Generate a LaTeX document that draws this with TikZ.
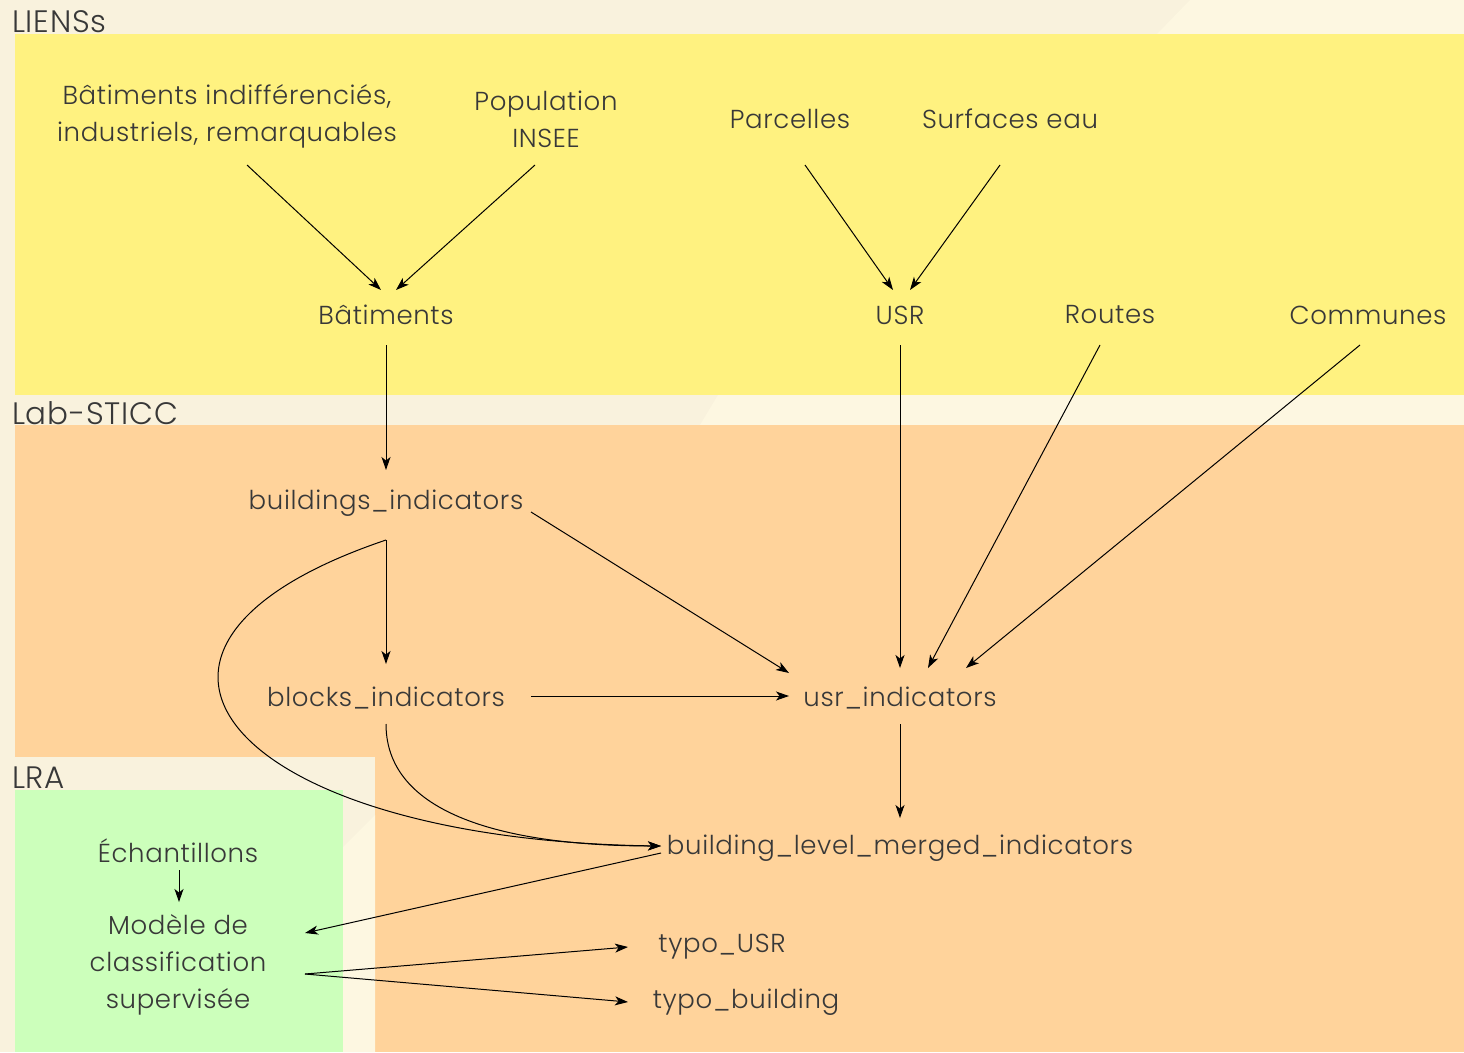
\documentclass[tikz,border=0pt]{standalone}
\usepackage{fontspec}
\setmainfont{Poppins}[UprightFont={* Light},LetterSpace=2.5]
\usetikzlibrary{arrows.meta,calc}
\definecolor{creamD}{RGB}{249,242,221}
\definecolor{creamL}{RGB}{253,247,225}
\definecolor{yel}{RGB}{255,242,128}
\definecolor{ora}{RGB}{255,211,155}
\definecolor{grn}{RGB}{204,255,187}
\definecolor{ink}{RGB}{56,56,56}
\tikzset{
  txt/.style={text=ink, font=\fontsize{26}{37}\selectfont, align=center, inner sep=0pt},
  lab/.style={text=ink, font=\fontsize{31}{34}\selectfont, inner sep=0pt, anchor=base west},
  arr/.style={draw=black, line width=1pt, -{Stealth[length=13pt,width=9pt,inset=3.5pt]}}
}
\begin{document}
\begin{tikzpicture}[x=1pt,y=-1pt]
\useasboundingbox (0,0) rectangle (1464,1052);
% backgrounds
\fill[creamD] (0,0) rectangle (1464,1052);
\fill[creamL] (1190,0) -- (1464,0) -- (1464,34) -- (1157,34) -- cycle;
\fill[yel] (15,34) rectangle (1464,395);
\fill[creamL] (718,395) -- (1464,395) -- (1464,425) -- (700,425) -- cycle;
\fill[ora] (15,425) rectangle (1464,1052);
\fill[creamD] (15,757) rectangle (375,1052);
\fill[creamL] (375,815) -- (375,1052) -- (343,1052) -- (343,847) -- cycle;
\fill[grn] (15,790) rectangle (343,1052);
% cluster labels
\node[lab] (lLIENS) at (12,32) {LIENSs};
\node[lab] (lLAB) at (12,424) {Lab-STICC};
\node[lab] (lLRA) at (12,788) {LRA};
% nodes
\node[txt] (bif) at (227,116) {Bâtiments indifférenciés,\\industriels, remarquables};
\node[txt] (pop) at (546,119) {Population\\INSEE};
\node[txt] (parc) at (790,119) {Parcelles};
\node[txt] (surf) at (1010,119) {Surfaces eau};
\node[txt] (bati) at (386,315) {Bâtiments};
\node[txt] (usr) at (900,315) {USR};
\node[txt] (routes) at (1110,315) {Routes};
\node[txt] (comm) at (1368,315) {Communes};
\node[txt] (bind) at (386,503) {buildings\_indicators};
\node[txt] (blk) at (386,698) {blocks\_indicators};
\node[txt] (usri) at (900,698) {usr\_indicators};
\node[txt] (merged) at (900,848) {building\_level\_merged\_indicators};
\node[txt] (ech) at (178,851) {Échantillons};
\node[txt] (mod) at (178,965) {Modèle de\\classification\\supervisée};
\node[txt] (tusr) at (722,947) {typo\_USR};
\node[txt] (tbld) at (746,1002) {typo\_building};
% edges
\draw[arr] ($(bif)+(20,49)$) -- ($(bati)+(-5,-25)$);
\draw[arr] ($(pop)+(-11,46)$) -- ($(bati)+(10,-25)$);
\draw[arr] ($(parc)+(15,46)$) -- ($(usr)+(-7,-25)$);
\draw[arr] ($(surf)+(-10,46)$) -- ($(usr)+(10,-25)$);
\draw[arr] ($(bati)+(0,30)$) -- ($(bind)+(0,-33)$);
\draw[arr] ($(usr)+(0,30)$) -- ($(usri)+(0,-30)$);
\draw[arr] ($(routes)+(-10,30)$) -- ($(usri)+(28,-30)$);
\draw[arr] ($(comm)+(-8,30)$) -- ($(usri)+(66,-30)$);
\draw[arr] ($(bind)+(145,9)$) -- ($(usri)+(-111,-25)$);
\draw[arr] ($(bind)+(0,37)$) -- ($(blk)+(0,-34)$);
\draw[arr] ($(blk)+(145,-2)$) -- ($(usri)+(-111,-2)$);
\draw[arr] ($(usri)+(0,26)$) -- ($(merged)+(0,-30)$);
\draw[arr] ($(bind)+(0,37)$) .. controls ($(bind)+(-320,145)$) and ($(merged)+(-670,-8)$) .. ($(merged)+(-239,-2)$);
\draw[arr] ($(blk)+(0,26)$) .. controls ($(blk)+(0,122)$) and ($(merged)+(-380,-2)$) .. ($(merged)+(-239,-2)$);
\draw[arr] ($(merged)+(-239,5)$) -- ($(mod)+(127,-32)$);
\draw[arr] ($(ech)+(1,19)$) -- ($(mod)+(1,-63)$);
\draw[arr] ($(mod)+(127,9)$) -- ($(tusr)+(-94,0)$);
\draw[arr] ($(mod)+(127,9)$) -- ($(tbld)+(-118,0)$);
\end{tikzpicture}
\end{document}
